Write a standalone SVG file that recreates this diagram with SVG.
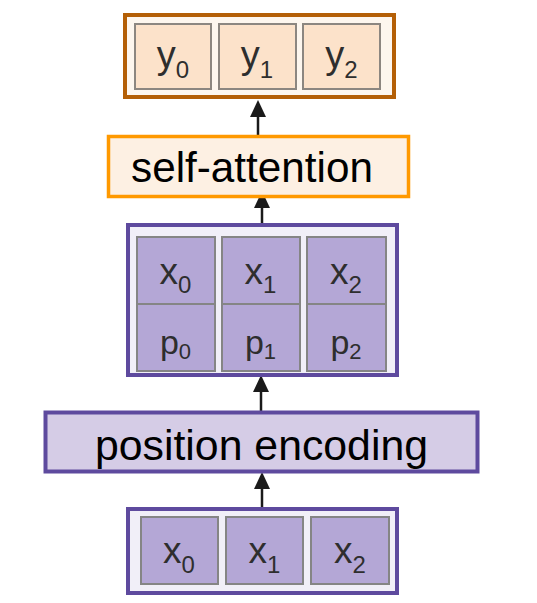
<svg xmlns="http://www.w3.org/2000/svg" width="537" height="603" viewBox="0 0 537 603">
<style>
text{font-family:"Liberation Sans",Arial,sans-serif;}
.cell{fill:#b4a7d6;stroke:#858585;stroke-width:2;}
.ycell{fill:#fce2ca;stroke:#8c8680;stroke-width:2;}
.purple{stroke:#5e4a9e;stroke-width:4;}
.lbl{fill:#000;}
.ct{fill:#2e2e2e;text-anchor:middle;}
.conn{stroke:#1a1a1a;stroke-width:2.5;fill:none;marker-end:url(#ah);}
</style>
<defs>
<marker id="ah" markerUnits="userSpaceOnUse" markerWidth="17" markerHeight="16" viewBox="0 0 17 16" refX="9" refY="8" orient="auto">
<path d="M0,0 L17,8 L0,16 z" fill="#1a1a1a"/>
</marker>
</defs>
<rect width="537" height="603" fill="#fff"/>
<g id="connectors">
<path class="conn" d="M258,135 L258,108"/>
<path class="conn" d="M262,223 L262,199"/>
<path class="conn" d="M261,411 L261,383"/>
<path class="conn" d="M262,507 L262,480"/>
</g>
<g id="outputs">
<rect x="125" y="15" width="269" height="82" fill="#fdf6ee" stroke="#b45f06" stroke-width="4"/>
<rect class="ycell" x="135" y="24" width="76" height="65"/>
<rect class="ycell" x="219" y="24" width="77" height="65"/>
<rect class="ycell" x="303" y="24" width="77" height="65"/>
<text class="ct" x="173" y="68" font-size="38">y<tspan font-size="24" dy="10">0</tspan></text>
<text class="ct" x="257" y="68" font-size="38">y<tspan font-size="24" dy="10">1</tspan></text>
<text class="ct" x="341.5" y="68" font-size="38">y<tspan font-size="24" dy="10">2</tspan></text>
</g>
<g id="self-attention">
<rect x="108.5" y="136.5" width="300" height="60" fill="#fdf0e3" stroke="#ff9900" stroke-width="3.5"/>
<text class="lbl" x="131" y="182" font-size="42" textLength="242" lengthAdjust="spacingAndGlyphs">self-attention</text>
</g>
<g id="embedded">
<rect class="purple" x="128" y="225" width="269" height="150" fill="#f1eff8"/>
<rect class="cell" x="137" y="237" width="78" height="67"/>
<rect class="cell" x="222" y="237" width="78" height="67"/>
<rect class="cell" x="307" y="237" width="79" height="67"/>
<rect class="cell" x="137" y="304" width="78" height="67"/>
<rect class="cell" x="222" y="304" width="78" height="67"/>
<rect class="cell" x="307" y="304" width="79" height="67"/>
<text class="ct" x="175.5" y="284" font-size="37">x<tspan font-size="24" dy="9">0</tspan></text>
<text class="ct" x="260.5" y="284" font-size="37">x<tspan font-size="24" dy="9">1</tspan></text>
<text class="ct" x="346" y="284" font-size="37">x<tspan font-size="24" dy="9">2</tspan></text>
<text class="ct" x="175.5" y="354" font-size="34">p<tspan font-size="22" dy="5">0</tspan></text>
<text class="ct" x="260.5" y="354" font-size="34">p<tspan font-size="22" dy="5">1</tspan></text>
<text class="ct" x="346" y="354" font-size="34">p<tspan font-size="22" dy="5">2</tspan></text>
</g>
<g id="position-encoding">
<rect class="purple" x="45.5" y="412.5" width="432" height="59" fill="#d5cce6"/>
<text class="lbl" x="95" y="460" font-size="43" textLength="333" lengthAdjust="spacingAndGlyphs">position encoding</text>
</g>
<g id="inputs">
<rect class="purple" x="128" y="509" width="269" height="84" fill="#f1eff8"/>
<rect class="cell" x="141" y="517" width="77" height="67"/>
<rect class="cell" x="226" y="517" width="77" height="67"/>
<rect class="cell" x="311" y="517" width="78" height="67"/>
<text class="ct" x="179" y="563" font-size="37">x<tspan font-size="24" dy="10">0</tspan></text>
<text class="ct" x="264.5" y="563" font-size="37">x<tspan font-size="24" dy="10">1</tspan></text>
<text class="ct" x="350" y="563" font-size="37">x<tspan font-size="24" dy="10">2</tspan></text>
</g>
</svg>
